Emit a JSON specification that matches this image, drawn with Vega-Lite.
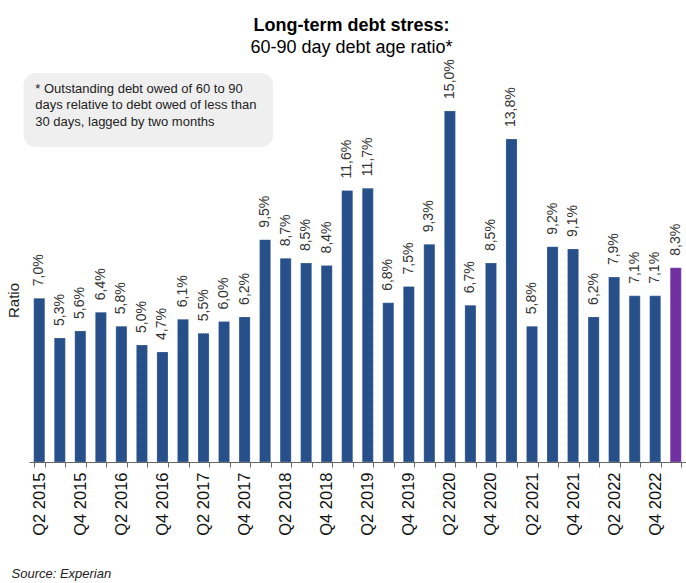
{
  "$schema": "https://vega.github.io/schema/vega-lite/v6.json",
  "width": 657,
  "height": 400,
  "autosize": {"type": "none"},
  "padding": {"left": 29, "top": 62, "right": 0, "bottom": 121},
  "background": "white",
  "config": {
    "view": {"stroke": null},
    "font": "Liberation Sans"
  },
  "title": {
    "text": "Long-term debt stress:",
    "subtitle": "60-90 day debt age ratio*",
    "font": "Liberation Sans",
    "fontSize": 18,
    "fontWeight": "bold",
    "color": "#000000",
    "subtitleFont": "Liberation Sans",
    "subtitleFontSize": 18,
    "subtitleColor": "#000000",
    "subtitlePadding": 4,
    "anchor": "middle",
    "offset": 2,
    "dx": -6
  },
  "data": {"values": [
    {"q": "Q2 2015", "v": 7.0, "lbl": "7,0%", "type": "hist"},
    {"q": "Q3 2015", "v": 5.3, "lbl": "5,3%", "type": "hist"},
    {"q": "Q4 2015", "v": 5.6, "lbl": "5,6%", "type": "hist"},
    {"q": "Q1 2016", "v": 6.4, "lbl": "6,4%", "type": "hist"},
    {"q": "Q2 2016", "v": 5.8, "lbl": "5,8%", "type": "hist"},
    {"q": "Q3 2016", "v": 5.0, "lbl": "5,0%", "type": "hist"},
    {"q": "Q4 2016", "v": 4.7, "lbl": "4,7%", "type": "hist"},
    {"q": "Q1 2017", "v": 6.1, "lbl": "6,1%", "type": "hist"},
    {"q": "Q2 2017", "v": 5.5, "lbl": "5,5%", "type": "hist"},
    {"q": "Q3 2017", "v": 6.0, "lbl": "6,0%", "type": "hist"},
    {"q": "Q4 2017", "v": 6.2, "lbl": "6,2%", "type": "hist"},
    {"q": "Q1 2018", "v": 9.5, "lbl": "9,5%", "type": "hist"},
    {"q": "Q2 2018", "v": 8.7, "lbl": "8,7%", "type": "hist"},
    {"q": "Q3 2018", "v": 8.5, "lbl": "8,5%", "type": "hist"},
    {"q": "Q4 2018", "v": 8.4, "lbl": "8,4%", "type": "hist"},
    {"q": "Q1 2019", "v": 11.6, "lbl": "11,6%", "type": "hist"},
    {"q": "Q2 2019", "v": 11.7, "lbl": "11,7%", "type": "hist"},
    {"q": "Q3 2019", "v": 6.8, "lbl": "6,8%", "type": "hist"},
    {"q": "Q4 2019", "v": 7.5, "lbl": "7,5%", "type": "hist"},
    {"q": "Q1 2020", "v": 9.3, "lbl": "9,3%", "type": "hist"},
    {"q": "Q2 2020", "v": 15.0, "lbl": "15,0%", "type": "hist"},
    {"q": "Q3 2020", "v": 6.7, "lbl": "6,7%", "type": "hist"},
    {"q": "Q4 2020", "v": 8.5, "lbl": "8,5%", "type": "hist"},
    {"q": "Q1 2021", "v": 13.8, "lbl": "13,8%", "type": "hist"},
    {"q": "Q2 2021", "v": 5.8, "lbl": "5,8%", "type": "hist"},
    {"q": "Q3 2021", "v": 9.2, "lbl": "9,2%", "type": "hist"},
    {"q": "Q4 2021", "v": 9.1, "lbl": "9,1%", "type": "hist"},
    {"q": "Q1 2022", "v": 6.2, "lbl": "6,2%", "type": "hist"},
    {"q": "Q2 2022", "v": 7.9, "lbl": "7,9%", "type": "hist"},
    {"q": "Q3 2022", "v": 7.1, "lbl": "7,1%", "type": "hist"},
    {"q": "Q4 2022", "v": 7.1, "lbl": "7,1%", "type": "hist"},
    {"q": "Q1 2023", "v": 8.3, "lbl": "8,3%", "type": "latest"}
  ]},
  "encoding": {
    "x": {
      "field": "q",
      "type": "nominal",
      "sort": null,
      "scale": {
        "domain": ["Q2 2015", "Q3 2015", "Q4 2015", "Q1 2016", "Q2 2016", "Q3 2016", "Q4 2016", "Q1 2017", "Q2 2017", "Q3 2017", "Q4 2017", "Q1 2018", "Q2 2018", "Q3 2018", "Q4 2018", "Q1 2019", "Q2 2019", "Q3 2019", "Q4 2019", "Q1 2020", "Q2 2020", "Q3 2020", "Q4 2020", "Q1 2021", "Q2 2021", "Q3 2021", "Q4 2021", "Q1 2022", "Q2 2022", "Q3 2022", "Q4 2022", "Q1 2023"],
        "paddingInner": 0.46,
        "paddingOuter": 0.23
      },
      "axis": {
        "title": "Source: Experian",
        "titleFont": "Liberation Sans",
        "titleFontSize": 13,
        "titleFontStyle": "italic",
        "titleFontWeight": "normal",
        "titleColor": "#222222",
        "titleAnchor": "start",
        "titleAlign": "left",
        "titleBaseline": "alphabetic",
        "titleX": -18,
        "titleY": 115,
        "labelAngle": 270,
        "labelFontSize": 16.5,
        "labelColor": "#111111",
        "labelPadding": 5,
        "labelExpr": "test(/^Q[24]/, '' + datum.label) ? datum.label : ''",
        "tickBand": "extent",
        "tickSize": 5,
        "tickColor": "#666666",
        "domainColor": "#666666",
        "grid": false
      }
    },
    "y": {
      "field": "v",
      "type": "quantitative",
      "scale": {"domain": [0, 17.09], "nice": false},
      "axis": {
        "title": "Ratio",
        "titleFont": "Liberation Sans",
        "titleFontSize": 15,
        "titleFontWeight": "normal",
        "titleColor": "#222222",
        "titleX": -8,
        "titleY": 238,
        "titleAlign": "center",
        "labels": false,
        "ticks": false,
        "domain": false,
        "grid": false
      }
    }
  },
  "layer": [
    {
      "transform": [{"filter": "datum.q == 'Q2 2015'"}],
      "mark": {"type": "rect", "fill": "#efefef", "cornerRadius": 12, "xOffset": -15.7, "x2Offset": 8},
      "encoding": {
        "x": {"datum": "Q2 2015", "type": "nominal"},
        "x2": {"datum": "Q1 2018"},
        "y": {"datum": 16.62, "type": "quantitative"},
        "y2": {"datum": 13.46}
      }
    },
    {
      "transform": [{"filter": "datum.q == 'Q2 2015'"}],
      "mark": {
        "type": "text",
        "text": ["* Outstanding debt owed of 60 to 90", "days relative to debt owed of less than", "30 days, lagged by two months"],
        "align": "left",
        "baseline": "top",
        "lineHeight": 16.5,
        "fontSize": 13,
        "font": "Liberation Sans",
        "color": "#222222",
        "dx": -4
      },
      "encoding": {
        "x": {"datum": "Q2 2015", "type": "nominal"},
        "y": {"datum": 16.2, "type": "quantitative"}
      }
    },
    {
      "mark": {"type": "bar", "stroke": "#ffffff", "strokeOpacity": 0.4, "strokeWidth": 1, "strokeDash": [1, 1]},
      "encoding": {
        "color": {
          "field": "type",
          "type": "nominal",
          "scale": {"domain": ["hist", "latest"], "range": ["#27508a", "#7030a0"]},
          "legend": null
        }
      }
    },
    {
      "mark": {
        "type": "text",
        "angle": 270,
        "align": "left",
        "baseline": "middle",
        "dx": 12,
        "fontSize": 14,
        "font": "Liberation Sans",
        "color": "#333333"
      },
      "encoding": {
        "text": {"field": "lbl", "type": "nominal"}
      }
    }
  ]
}
